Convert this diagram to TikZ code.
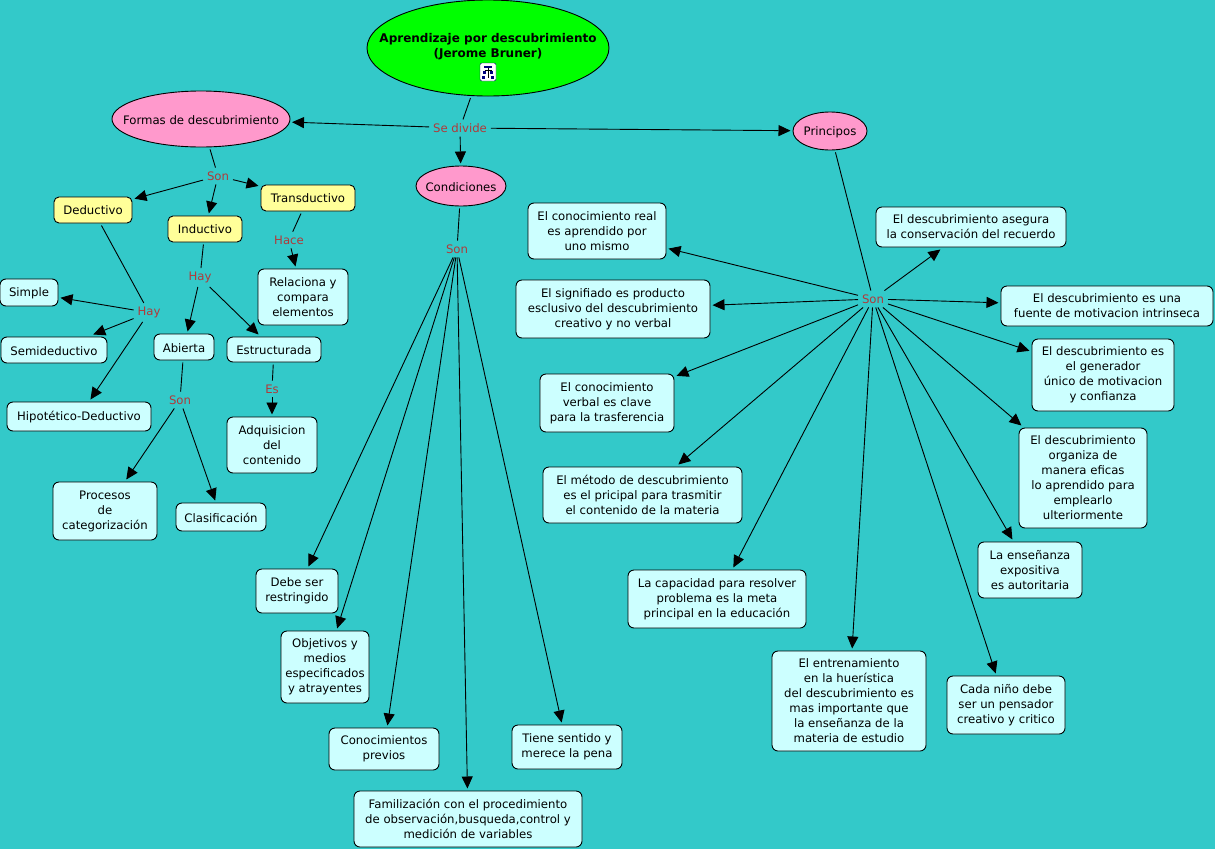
\documentclass[tikz,border=0pt]{standalone}
\usepackage{fontspec}
\setmainfont{DejaVu Sans}
\usetikzlibrary{shapes.geometric,arrows.meta}
\definecolor{mapbg}{HTML}{33C9C9}
\definecolor{pinkfill}{HTML}{FF99CC}
\definecolor{yellowfill}{HTML}{FFFF99}
\definecolor{cyanfill}{HTML}{CCFFFF}
\definecolor{linkred}{HTML}{B03A3A}
\tikzset{
  every node/.style={font=\fontsize{11.7}{15}\selectfont, align=center},
  topic/.style={ellipse, draw, line width=0.9pt, inner xsep=-30pt, inner ysep=-10pt, outer sep=2.5pt, execute at begin node=\rule{0pt}{11pt}},
  kind/.style={rectangle, rounded corners=5pt, draw, line width=0.9pt, fill=yellowfill, inner sep=1pt, outer sep=2.5pt},
  idea/.style={rectangle, rounded corners=6pt, draw, line width=0.9pt, fill=cyanfill, inner sep=1pt, outer sep=2.5pt, execute at begin node=\rule{0pt}{11pt}},
  linkword/.style={text=linkred, inner sep=1pt, outer sep=3pt},
  plain/.style={line width=0.9pt, draw=black},
  arrow/.style={line width=0.9pt, draw=black, -{Triangle[length=12pt,width=11pt]}}
}

\begin{document}
\begin{tikzpicture}[x=1pt,y=-1pt]
\useasboundingbox (0,0) rectangle (1215,849);
\fill[mapbg] (0,0) rectangle (1215,849);

% top of the map
\node[topic, fill=green, minimum width=242pt, minimum height=96pt, font=\fontsize{12}{15}\selectfont] (root) at (488,48)
  {\textbf{Aprendizaje por descubrimiento}\\\textbf{(Jerome Bruner)}\rule[-6pt]{0pt}{1pt}};
\node[draw=blue!40!black, fill=white, rounded corners=2pt, minimum width=16pt, minimum height=18pt, inner sep=0pt] (icon) at (488,72) {};
\fill[blue!50!black] (484,66) rectangle (492,68);
\fill[blue!50!black] (483,71) rectangle (486,74);
\fill[blue!50!black] (490,71) rectangle (493,74);
\fill[blue!50!black] (482,76) rectangle (485,79);
\fill[blue!50!black] (491,76) rectangle (494,79);
\draw[line width=0.5pt] (488,68) -- (488,78);
\draw[line width=0.5pt] (484.5,70) -- (491.5,70);

\node[linkword] (sedivide) at (460,128) {Se divide};
\node[topic, fill=pinkfill, minimum width=178pt, minimum height=56pt] (formas) at (201,119) {Formas de descubrimiento};
\node[topic, fill=pinkfill, minimum width=90pt, minimum height=40pt] (condiciones) at (461,186) {Condiciones};
\node[topic, fill=pinkfill, minimum width=74pt, minimum height=38pt] (principos) at (830,131) {Principos};

% left side
\node[linkword] (sonformas) at (218,176) {Son};
\node[kind, minimum width=78pt, minimum height=26pt] (deductivo) at (93,210) {Deductivo};
\node[kind, minimum width=74pt, minimum height=26pt] (inductivo) at (205,229) {Inductivo};
\node[kind, minimum width=94pt, minimum height=26pt] (transductivo) at (308,198) {Transductivo};
\node[linkword] (hace) at (289,240) {Hace};
\node[idea, minimum width=90pt, minimum height=56pt] (relaciona) at (303,297) {Relaciona y\\compara\\elementos};
\node[linkword] (hayind) at (200,277.5) {Hay};
\node[linkword] (hayded) at (149,312.5) {Hay};
\node[idea, minimum width=58pt, minimum height=27pt] (simple) at (29,292.5) {Simple};
\node[idea, minimum width=106pt, minimum height=26pt] (semideductivo) at (54,350) {Semideductivo};
\node[idea, minimum width=144pt, minimum height=29pt] (hipotetico) at (79,416.5) {Hipotético-Deductivo};
\node[idea, minimum width=60pt, minimum height=26pt] (abierta) at (184,347) {Abierta};
\node[idea, minimum width=94pt, minimum height=25pt] (estructurada) at (274,349.5) {Estructurada};
\node[linkword] (sonabierta) at (180,400) {Son};
\node[linkword] (es) at (272,389) {Es};
\node[idea, minimum width=90pt, minimum height=56pt] (adquisicion) at (272,445) {Adquisicion\\del\\contenido};
\node[idea, minimum width=104pt, minimum height=58pt] (procesos) at (105,511) {Procesos\\de\\categorización};
\node[idea, minimum width=90pt, minimum height=28pt] (clasificacion) at (221,517) {Clasificación};

% middle
\node[linkword] (soncond) at (457,249) {Son};
\node[idea, minimum width=82pt, minimum height=44pt] (debeser) at (297,591) {Debe ser\\restringido};
\node[idea, minimum width=88pt, minimum height=72pt] (objetivos) at (325,667) {Objetivos y\\medios\\especificados\\y atrayentes};
\node[idea, minimum width=110pt, minimum height=42pt] (conocimientos) at (384,749) {Conocimientos\\previos};
\node[idea, minimum width=228pt, minimum height=56pt] (familizacion) at (468,819) {Familización con el procedimiento\\de observación,busqueda,control y\\medición de variables};
\node[idea, minimum width=110pt, minimum height=44pt] (tiene) at (567,747) {Tiene sentido y\\merece la pena};

% right side
\node[linkword] (sonprin) at (873,299) {Son};
\node[idea, minimum width=138pt, minimum height=56pt] (real) at (597,231) {El conocimiento real\\es aprendido por\\uno mismo};
\node[idea, minimum width=194pt, minimum height=58pt] (signifiado) at (613,309) {El signifiado es producto\\esclusivo del descubrimiento\\creativo y no verbal};
\node[idea, minimum width=134pt, minimum height=58pt] (verbal) at (607,403) {El conocimiento\\verbal es clave\\para la trasferencia};
\node[idea, minimum width=199pt, minimum height=56pt] (metodo) at (642.5,495) {El método de descubrimiento\\es el pricipal para trasmitir\\el contenido de la materia};
\node[idea, minimum width=178pt, minimum height=58pt] (capacidad) at (717,599) {La capacidad para resolver\\problema es la meta\\principal en la educación};
\node[idea, minimum width=154pt, minimum height=100pt] (entrenamiento) at (849,701) {El entrenamiento\\en la huerística\\del descubrimiento es\\mas importante que\\la enseñanza de la\\materia de estudio};
\node[idea, minimum width=118pt, minimum height=58pt] (nino) at (1006,705) {Cada niño debe\\ser un pensador\\creativo y critico};
\node[idea, minimum width=104pt, minimum height=56pt] (ensenanza) at (1030,570) {La enseñanza\\expositiva\\es autoritaria};
\node[idea, minimum width=128pt, minimum height=100pt] (organiza) at (1083,478) {El descubrimiento\\organiza de\\manera eficas\\lo aprendido para\\emplearlo\\ulteriormente};
\node[idea, minimum width=142pt, minimum height=72pt] (generador) at (1103,375) {El descubrimiento es\\el generador\\único de motivacion\\y confianza};
\node[idea, minimum width=212pt, minimum height=40pt] (fuente) at (1107,306) {El descubrimiento es una\\fuente de motivacion intrinseca};
\node[idea, minimum width=190pt, minimum height=40pt] (asegura) at (971,227) {El descubrimiento asegura\\la conservación del recuerdo};

% connectors
\draw[plain] (root) -- (sedivide);
\foreach \t in {formas,condiciones,principos}
{
	\draw[arrow] (sedivide) -- (\t);
}
\draw[plain] (formas) -- (sonformas);
\foreach \t in {deductivo,inductivo,transductivo}
{
	\draw[arrow] (sonformas) -- (\t);
}
\draw[plain] (deductivo) -- (hayded);
\foreach \t in {simple,semideductivo,hipotetico}
{
	\draw[arrow] (hayded) -- (\t);
}
\draw[plain] (inductivo) -- (hayind);
\foreach \t in {abierta,estructurada}
{
	\draw[arrow] (hayind) -- (\t);
}
\draw[plain] (transductivo) -- (hace);
\draw[arrow] (hace) -- (relaciona);
\draw[plain] (abierta) -- (sonabierta);
\foreach \t in {procesos,clasificacion}
{
	\draw[arrow] (sonabierta) -- (\t);
}
\draw[plain] (estructurada) -- (es);
\draw[arrow] (es) -- (adquisicion);
\draw[plain] (condiciones) -- (soncond);
\foreach \t in {debeser,objetivos,conocimientos,familizacion,tiene}
{
	\draw[arrow] (soncond) -- (\t);
}
\draw[plain] (principos) -- (sonprin);
\foreach \t in {real,signifiado,verbal,metodo,capacidad,entrenamiento,nino,ensenanza,organiza,generador,fuente,asegura}
{
	\draw[arrow] (sonprin) -- (\t);
}
\end{tikzpicture}
\end{document}
